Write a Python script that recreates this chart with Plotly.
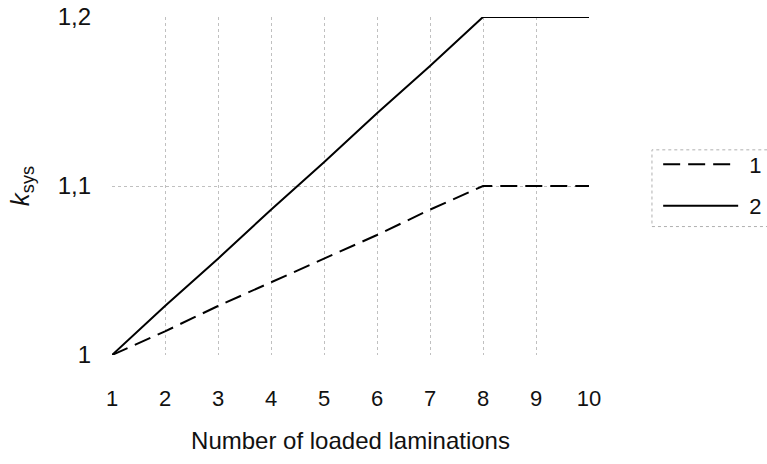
import plotly.graph_objects as go

x_vals = [1, 2, 3, 4, 5, 6, 7, 8, 9, 10]
series1 = [1.0, 1.014, 1.029, 1.043, 1.057, 1.071, 1.086, 1.1, 1.1, 1.1]
series2 = [1.0, 1.029, 1.057, 1.086, 1.114, 1.143, 1.171, 1.2, 1.2, 1.2]
y_ticks = [1.0, 1.1, 1.2]
y_ticktext = ["1", "1,1", "1,2"]
legend_names = ["1", "2"]

font = "Liberation Sans, Arial, sans-serif"

fig = go.Figure()
fig.add_trace(go.Scatter(x=x_vals, y=series1, mode="lines", cliponaxis=False,
                         name="\u00a0" + legend_names[0], legendgroup="a",
                         line=dict(color="black", width=2, dash="17px,8px")))
fig.add_trace(go.Scatter(x=x_vals, y=series2, mode="lines", cliponaxis=False,
                         name="\u00a0" + legend_names[1], legendgroup="b",
                         line=dict(color="black", width=2)))

fig.update_layout(
    width=767, height=464,
    margin=dict(l=112, r=178, t=17, b=109, autoexpand=False),
    paper_bgcolor="white", plot_bgcolor="white",
    font=dict(family=font, size=22, color="#111111"),
    showlegend=True,
    legend=dict(x=1.145, y=0.626, xanchor="left", yanchor="top",
                bgcolor="rgba(0,0,0,0)", borderwidth=0, traceorder="grouped",
                font=dict(size=22), itemwidth=75, tracegroupgap=10),
    xaxis=dict(range=[1, 10], tickmode="array", tickvals=x_vals,
               showgrid=True, gridcolor="#c0c0c0", griddash="dot", gridwidth=1,
               zeroline=False, showline=False, ticks="", automargin=False,
               ticklabelstandoff=28, tickfont=dict(size=22),
               title=dict(text="Number of loaded laminations", standoff=22,
                          font=dict(size=24))),
    yaxis=dict(range=[1, 1.2], tickmode="array", tickvals=y_ticks, ticktext=y_ticktext,
               showgrid=True, gridcolor="#c0c0c0", griddash="dot", gridwidth=1,
               zeroline=False, showline=False, ticks="", automargin=False,
               ticklabelstandoff=20, tickfont=dict(size=24),
               title=dict(text="<i>k</i><sub>sys</sub>", standoff=20,
                          font=dict(size=26))),
)

fig.add_shape(type="rect", xref="paper", yref="paper",
              x0=1.132, x1=1.38, y0=0.38, y1=0.607,
              line=dict(color="#b0b0b0", width=1, dash="dot"))

fig.write_html("out.html", config={"displayModeBar": False},
               post_script="document.body.style.margin='0';document.body.style.overflow='hidden';")
